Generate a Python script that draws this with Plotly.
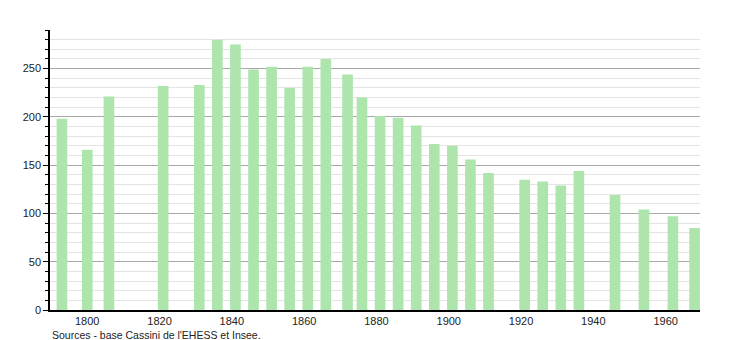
import plotly.graph_objects as go

years = [1793, 1800, 1806, 1821, 1831, 1836, 1841, 1846, 1851, 1856, 1861, 1866,
         1872, 1876, 1881, 1886, 1891, 1896, 1901, 1906, 1911, 1921, 1926, 1931,
         1936, 1946, 1954, 1962, 1968]
population = [198, 166, 221, 232, 233, 280, 275, 249, 252, 230, 252, 260,
              244, 220, 201, 199, 191, 172, 170, 156, 142, 135, 133, 129,
              144, 119, 104, 97, 85]
x_ticks = [1800, 1820, 1840, 1860, 1880, 1900, 1920, 1940, 1960]
y_ticks = [0, 50, 100, 150, 200, 250]
source_text = "Sources - base Cassini de l'EHESS et Insee."

font_family = "Liberation Sans, Arial, sans-serif"

fig = go.Figure()
fig.add_trace(go.Bar(
    x=years, y=population, width=2.95,
    marker=dict(color="#ade5ad", line=dict(width=0)),
    hoverinfo="x+y",
))

fig.update_layout(
    width=750, height=340,
    margin=dict(l=50, r=50, t=30, b=30),
    paper_bgcolor="white", plot_bgcolor="white",
    showlegend=False,
    font=dict(family=font_family, size=11, color="#222222"),
    xaxis=dict(
        range=[1789.7, 1969.5],
        tickvals=x_ticks, ticktext=[str(v) for v in x_ticks],
        showgrid=False, zeroline=False,
        showline=True, linecolor="black", linewidth=1.5,
        ticks="", tickfont=dict(size=11, color="#222222"),
    ),
    yaxis=dict(
        range=[0, 290],
        tickvals=y_ticks,
        showgrid=True, gridcolor="#a8a8a8", gridwidth=1,
        zeroline=False,
        showline=True, linecolor="black", linewidth=1.5,
        ticks="outside", ticklen=5, tickcolor="black", tickwidth=1,
        tickfont=dict(size=11, color="#222222"),
        minor=dict(dtick=10, tick0=0, showgrid=True, gridcolor="#e4e4e4",
                   gridwidth=1, ticks="outside", ticklen=3, tickcolor="black"),
    ),
    annotations=[dict(
        text=source_text, xref="paper", yref="paper",
        x=0, y=-0.0875, xanchor="left", yanchor="middle", showarrow=False,
        font=dict(size=10.5, color="#222222", family=font_family),
    )],
)

fig.write_html("out.html")
